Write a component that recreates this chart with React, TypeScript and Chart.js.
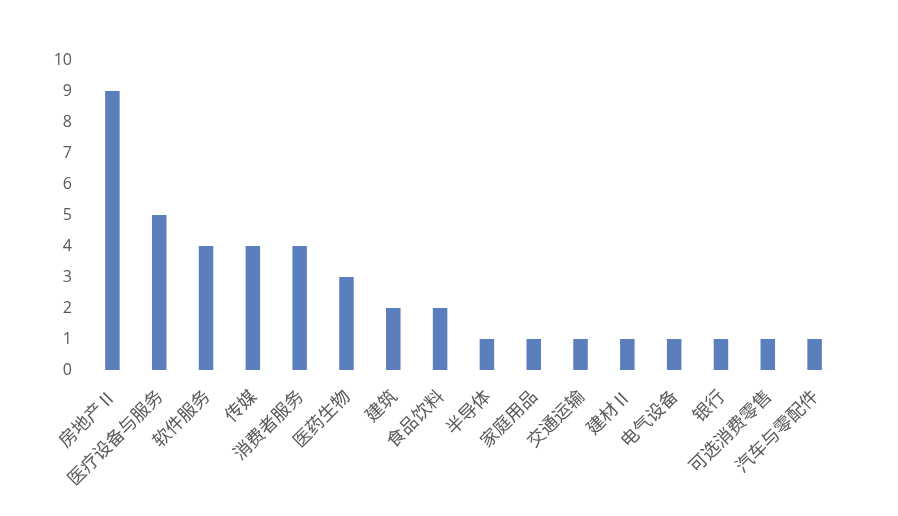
import React, { useEffect, useRef } from "react";
import { Chart, registerables } from "chart.js";

Chart.register(...registerables);

const categories = [
  "房地产Ⅱ",
  "医疗设备与服务",
  "软件服务",
  "传媒",
  "消费者服务",
  "医药生物",
  "建筑",
  "食品饮料",
  "半导体",
  "家庭用品",
  "交通运输",
  "建材Ⅱ",
  "电气设备",
  "银行",
  "可选消费零售",
  "汽车与零配件",
];
const values = [9, 5, 4, 4, 4, 3, 2, 2, 1, 1, 1, 1, 1, 1, 1, 1];
const yMin = 0;
const yMax = 10;

export default function App() {
  const ref = useRef<HTMLCanvasElement | null>(null);
  useEffect(() => {
    if (!ref.current) return;
    const chart = new Chart(ref.current, {
      type: "bar",
      data: {
        labels: categories,
        datasets: [
          {
            data: values,
            backgroundColor: "#5B7FBC",
            barPercentage: 0.62,
            categoryPercentage: 0.5,
          },
        ],
      },
      options: {
        responsive: false,
        animation: false,
        layout: { padding: { top: 60, right: 60, left: 0, bottom: 0 } },
        plugins: { legend: { display: false }, tooltip: { enabled: false } },
        scales: {
          x: {
            grid: { display: false },
            border: { display: false },
            ticks: {
              minRotation: 45,
              maxRotation: 45,
              autoSkip: false,
              padding: 7,
              color: "#595959",
              font: { family: "'Noto Sans CJK SC', sans-serif", size: 18 },
            },
            afterFit: (s: any) => {
              s.height = 146;
            },
          },
          y: {
            min: yMin,
            max: yMax,
            grid: { display: false },
            border: { display: false },
            ticks: {
              stepSize: 1,
              padding: 9,
              color: "#595959",
              font: { family: "'Open Sans', sans-serif", size: 16 },
            },
            afterFit: (s: any) => {
              s.width = 89;
            },
          },
        },
      },
    });
    return () => chart.destroy();
  }, []);
  return (
    <div style={{ position: "fixed", left: 0, top: 0, width: 898, height: 516, background: "#fff" }}>
      <canvas ref={ref} width={898} height={516} />
    </div>
  );
}
